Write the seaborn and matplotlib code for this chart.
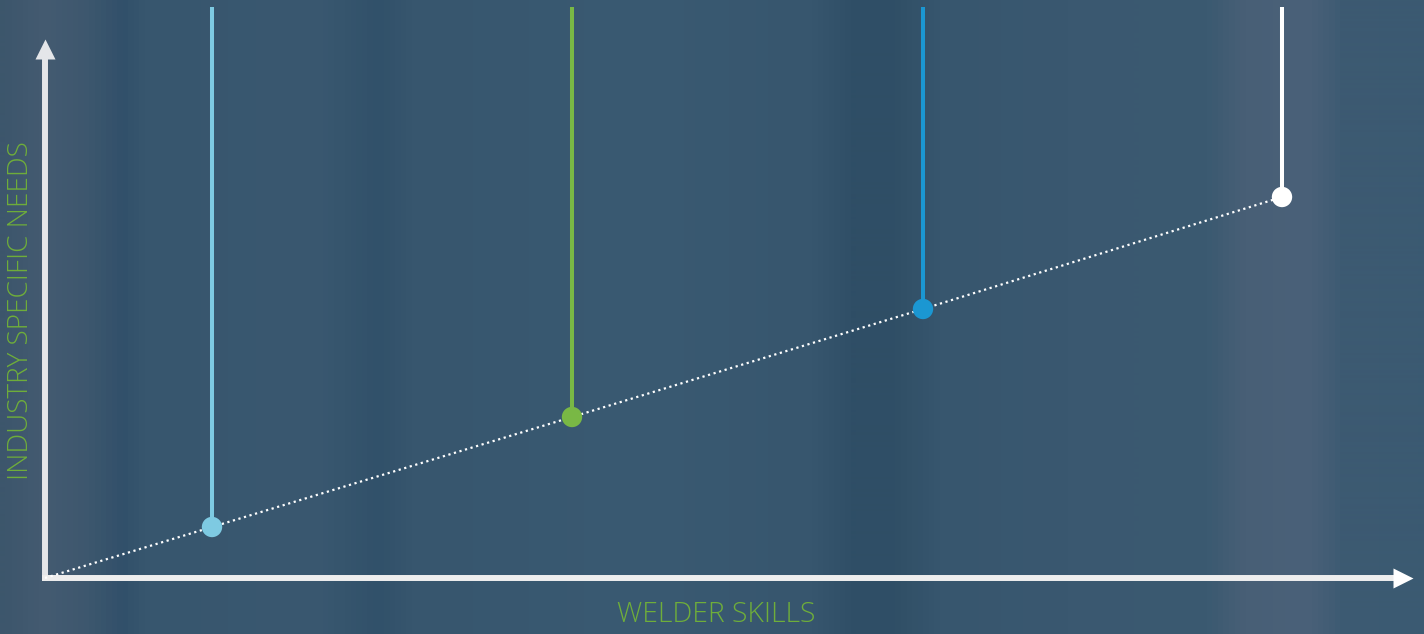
import numpy as np
import matplotlib
matplotlib.use("Agg")
import matplotlib.pyplot as plt
from matplotlib.colors import LinearSegmentedColormap
import seaborn as sns

# skill levels (x) and industry needs (y) for the four stages
levels = ["stage1", "stage2", "stage3", "stage4"]
skills = [1.67, 5.27, 8.78, 12.37]
needs = [0.51, 1.61, 2.69, 3.81]
colors = ["#7ecae2", "#79b845", "#1b97d2", "#ffffff"]

sns.set_theme(style="white")
plt.rcParams["font.family"] = ["Open Sans", "DejaVu Sans"]

fig = plt.figure(figsize=(14.24, 6.34), dpi=100)
ax = fig.add_axes([0, 0, 1, 1])
x0, x1, y0, y1 = -0.45, 13.79, -0.56, 5.78

# blurred striped backdrop
stops = [(0.0, "#3d566c"), (0.03, "#445b71"), (0.06, "#3d576e"), (0.085, "#31506a"),
         (0.10, "#37566e"), (0.22, "#3a5870"), (0.265, "#31516a"), (0.29, "#37566e"),
         (0.45, "#3a5a72"), (0.57, "#37566e"), (0.60, "#2f4e66"), (0.63, "#304f66"),
         (0.66, "#37566e"), (0.75, "#3a5870"), (0.85, "#3b5a71"), (0.875, "#485f76"),
         (0.92, "#4a6179"), (0.945, "#3d5a72"), (1.0, "#3b5a72")]
bg = LinearSegmentedColormap.from_list("bg", stops)
ax.imshow(np.linspace(0, 1, 1424).reshape(1, -1), cmap=bg, aspect="auto",
          extent=[x0, x1, y0, y1], zorder=0)

# axes arrows
ax.plot([0, 0], [-0.03, 5.22], color="#e4e6e9", lw=4.3, solid_capstyle="butt", zorder=2)
ax.plot([0], [5.29], marker="^", ms=14.5, color="#e4e6e9", mec="none", zorder=2)
ax.plot([-0.03, 13.52], [0.0, 0.0], color="#eeeeee", lw=4.3, solid_capstyle="butt", zorder=2)
ax.plot([13.58], [0.0], marker=">", ms=14.5, color="#ffffff", mec="none", zorder=2)

# stems up towards the top
ax.vlines(skills, needs, 5.71, colors=colors, lw=2.9, zorder=3)

# dotted trend line
sns.lineplot(x=[0] + skills, y=[0] + needs, ax=ax, color="white", lw=1.6,
             linestyle=(0, (1, 1.6)), zorder=3)

sns.scatterplot(x=skills, y=needs, hue=levels, palette=colors, s=215,
                edgecolor="none", legend=False, ax=ax, zorder=4)

ax.text(6.71, -0.37, "WELDER SKILLS", color="#6fae3a", fontsize=20.3,
        fontweight="light", ha="center", va="center")
ax.text(-0.24, 2.67, "INDUSTRY SPECIFIC NEEDS", color="#6fae3a", fontsize=20.1,
        fontweight="light", ha="center", va="center", rotation=90)

ax.set_xlim(x0, x1)
ax.set_ylim(y0, y1)
ax.axis("off")
fig.savefig("out.png", dpi=100)
